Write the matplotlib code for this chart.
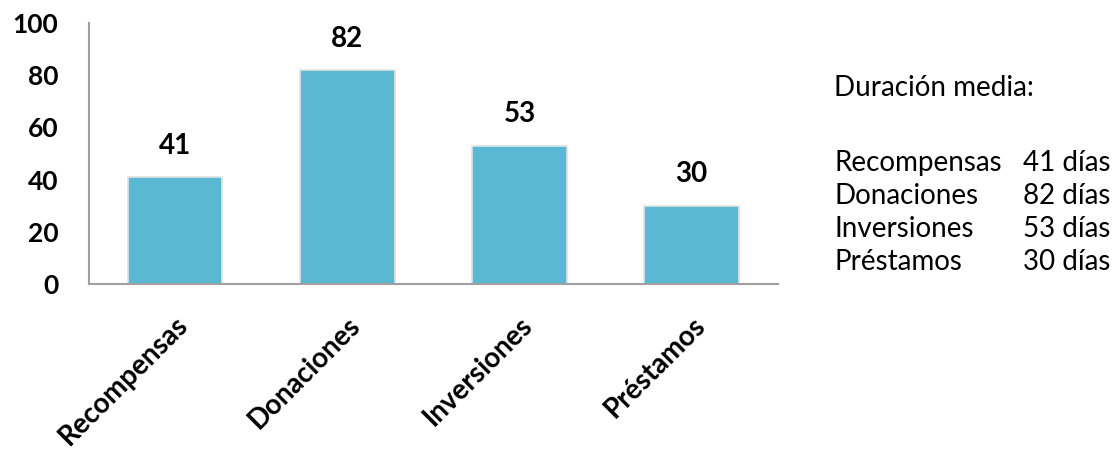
import numpy as np
import matplotlib.pyplot as plt

# datos
categorias = ['Recompensas', 'Donaciones', 'Inversiones', 'Préstamos']
duracion = [41, 82, 53, 30]
yticks = [0, 20, 40, 60, 80, 100]

plt.rcParams['font.family'] = ['Lato', 'DejaVu Sans']

fig = plt.figure(figsize=(11.19, 4.5), dpi=100)
ax = fig.add_axes([0.0795, 0.369, 0.6155, 0.58])

x = np.arange(len(categorias))
ax.bar(x, duracion, width=0.55, color='#5BB8D2',
       edgecolor='#E2E2E2', linewidth=1.2)

for xi, v in zip(x, duracion):
    ax.text(xi, v + 12, str(v), ha='center', va='center',
            fontsize=20, fontweight='bold', color='black')

ax.set_xlim(-0.5, len(categorias) - 0.5)
ax.set_ylim(0, 100)
ax.set_yticks(yticks)
ax.set_yticklabels([str(t) for t in yticks], fontsize=19, fontweight='bold')
ax.set_xticks(x)
ax.set_xticklabels(categorias, rotation=45, ha='right', rotation_mode='anchor',
                   fontsize=20, fontweight='bold')
ax.tick_params(axis='both', length=0)
ax.tick_params(axis='y', pad=22)
ax.tick_params(axis='x', pad=20)
for s in ['top', 'right']:
    ax.spines[s].set_visible(False)
for s in ['left', 'bottom']:
    ax.spines[s].set_color('#A0A0A0')
    ax.spines[s].set_linewidth(1.5)

# texto lateral
fig.text(834 / 1119, 1 - 88 / 450, 'Duración media:', fontsize=20, va='center')
row_y = [163, 196, 229, 262]
for name, v, yy in zip(categorias, duracion, row_y):
    fig.text(834 / 1119, 1 - yy / 450, name, fontsize=20, va='center')
    fig.text(1023 / 1119, 1 - yy / 450, f'{v} días', fontsize=20, va='center')

fig.savefig('out.png', dpi=100)
